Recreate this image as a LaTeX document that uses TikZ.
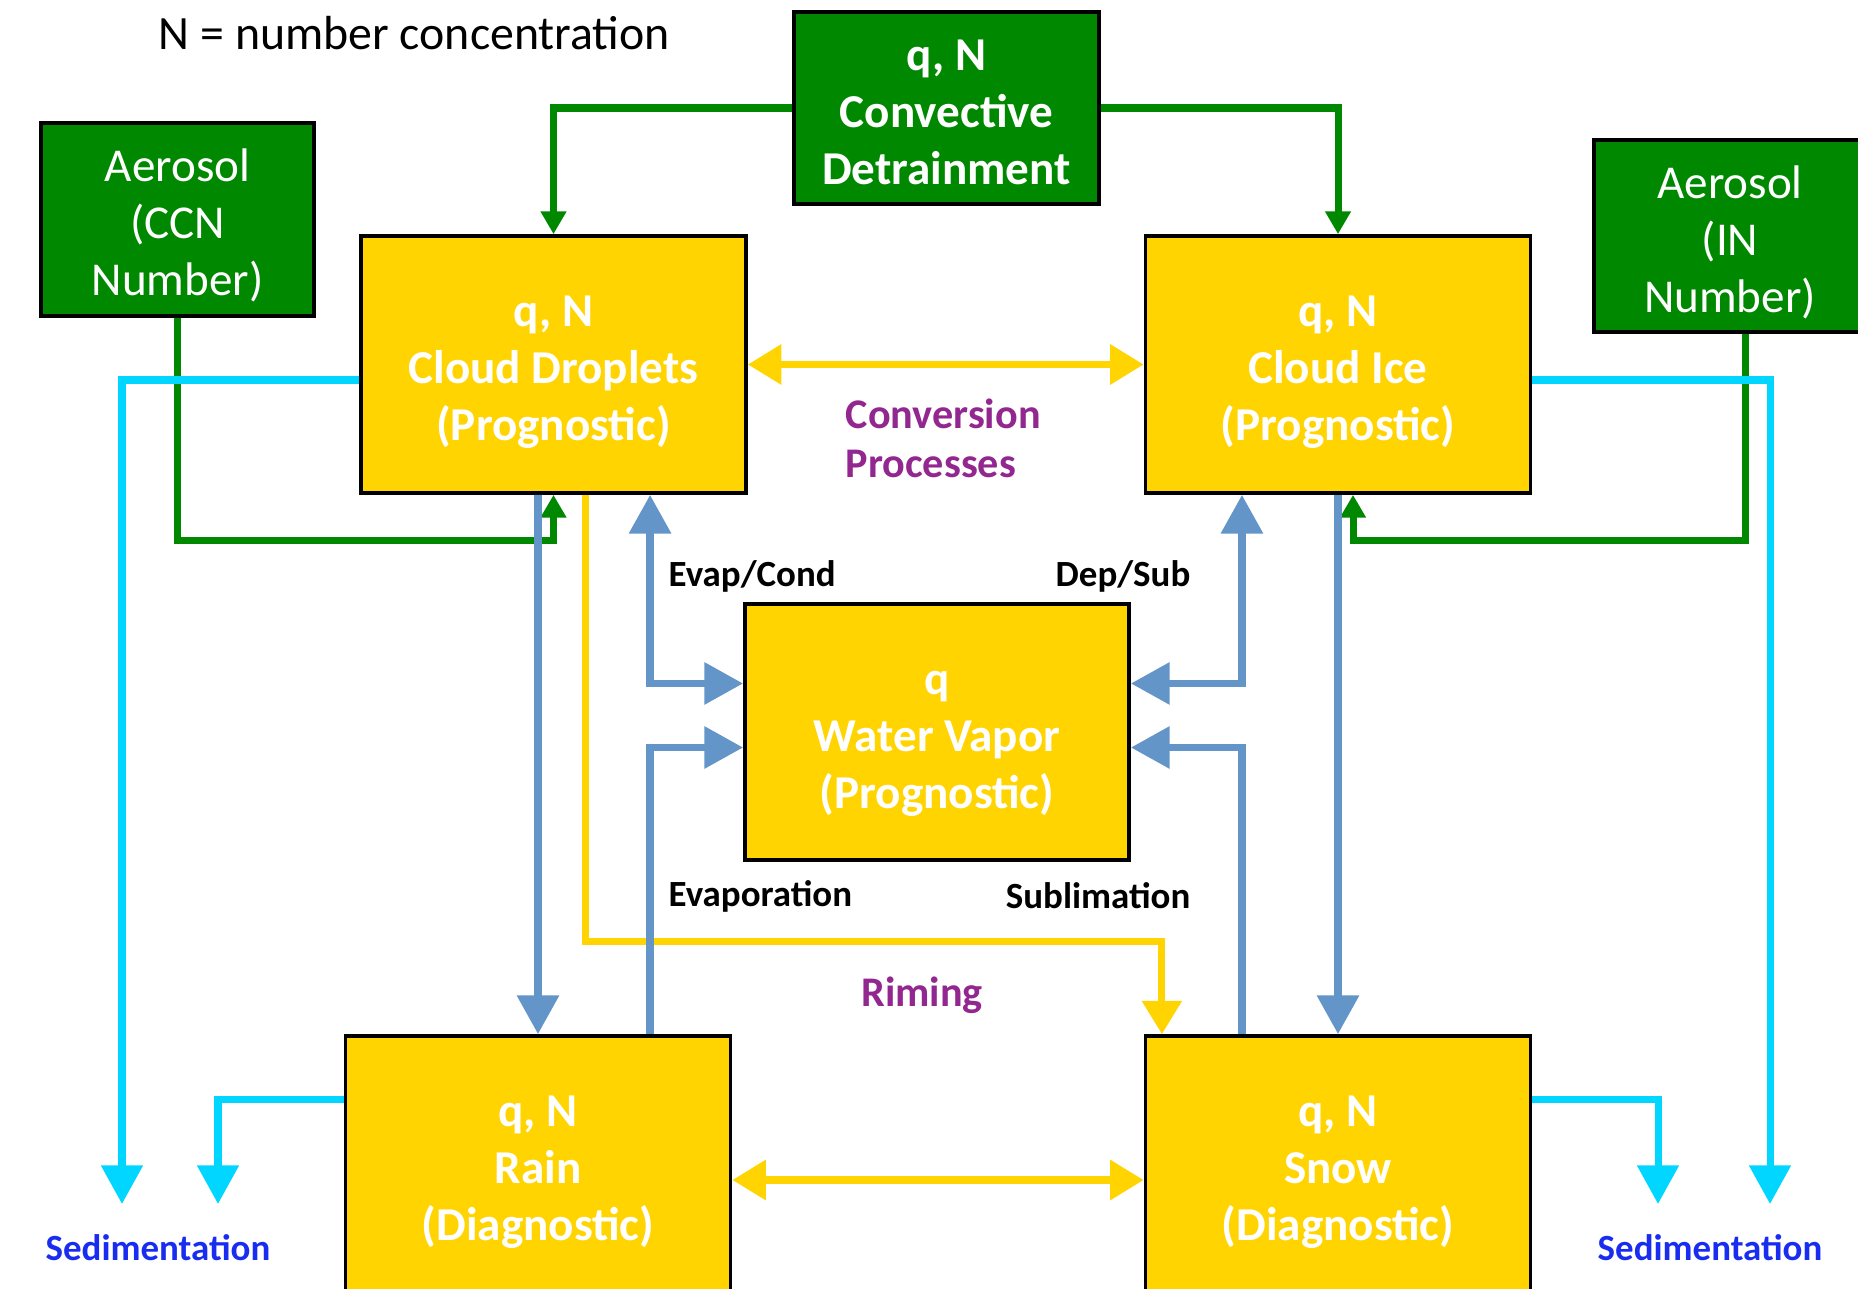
\documentclass[tikz,border=0pt]{standalone}
\usepackage{fontspec}
\setmainfont{Carlito}
\usetikzlibrary{arrows.meta,positioning,calc}
\definecolor{boxyellow}{RGB}{255,212,0}
\definecolor{boxgreen}{RGB}{0,137,0}
\definecolor{sedcyan}{RGB}{0,214,255}
\definecolor{vapblue}{RGB}{99,149,201}
\definecolor{procpurple}{RGB}{146,39,143}
\definecolor{sedblue}{RGB}{25,45,240}

\begin{document}
\begin{tikzpicture}[
  x=0.01cm, y=-0.01cm,
  box/.style={rectangle, draw=black, line width=1pt, align=center, text=white, inner sep=0pt, text height=43.4pt, text depth=0pt},
  hydrobox/.style={box, fill=boxyellow, font=\fontsize{13.4}{16.2}\selectfont\bfseries, minimum width=3.85cm, minimum height=2.57cm},
  sourcebox/.style={box, fill=boxgreen, font=\fontsize{13.4}{16.2}\selectfont, minimum width=2.73cm, minimum height=1.93cm},
  fluxlabel/.style={font=\fontsize{10.5}{12}\selectfont\bfseries, text=black, inner sep=0pt},
  proclabel/.style={font=\fontsize{12}{14}\selectfont\bfseries, text=procpurple, inner sep=0pt, align=left},
  sedlabel/.style={font=\fontsize{10.5}{12}\selectfont\bfseries, text=sedblue, inner sep=0pt},
  garrow/.style={draw=boxgreen, line width=2pt, -{Triangle[length=6.5pt,width=7pt]}},
  carrow/.style={draw=sedcyan, line width=2pt, -{Triangle[length=11pt,width=11.5pt]}},
  barrow/.style={draw=vapblue, line width=2.2pt, -{Triangle[length=11pt,width=11.5pt]}},
  bdarrow/.style={barrow, {Triangle[length=11pt,width=11.5pt]}-{Triangle[length=11pt,width=11.5pt]}},
  yarrow/.style={draw=boxyellow, line width=2pt, -{Triangle[length=9.5pt,width=11pt]}},
  ydarrow/.style={yarrow, {Triangle[length=9.5pt,width=11pt]}-{Triangle[length=9.5pt,width=11pt]}},
]
  \clip (0,0) rectangle (1858,1289);

  \node[font=\fontsize{13.6}{16.2}\selectfont, inner sep=0pt, anchor=west] (legend) at (158,33) {N = number concentration};

  \node[sourcebox, font=\fontsize{13.4}{16.2}\selectfont\bfseries, minimum width=3.05cm, minimum height=1.92cm] (conv) at (946.5,108) {q, N\\Convective\\Detrainment};
  \node[sourcebox] (ccn) at (177.5,219.5) {Aerosol\\(CCN\\Number)};
  \node[sourcebox, minimum width=2.72cm, minimum height=1.92cm] (inbox) at (1730,236) {Aerosol\\(IN\\Number)};

  \node[hydrobox] (drop) at (553.5,364.5) {q, N\\Cloud Droplets\\(Prognostic)};
  \node[hydrobox] (ice) at (1338,364.5) {q, N\\Cloud Ice\\(Prognostic)};
  \node[hydrobox, minimum width=3.84cm, minimum height=2.56cm] (vapor) at (937,732) {q\\Water Vapor\\(Prognostic)};
  \node[hydrobox] (rain) at (538,1164.5) {q, N\\Rain\\(Diagnostic)};
  \node[hydrobox] (snow) at (1338,1164.5) {q, N\\Snow\\(Diagnostic)};

  \node[proclabel, anchor=west] (conversion) at (845,438) {Conversion\\Processes};
  \node[proclabel] (riming) at (922,995) {Riming};
  \node[fluxlabel, anchor=west] (evapcond) at (668,576) {Evap/Cond};
  \node[fluxlabel, anchor=east] (depsub) at (1191,576) {Dep/Sub};
  \node[fluxlabel, anchor=west] (evaporation) at (668,896) {Evaporation};
  \node[fluxlabel, anchor=east] (sublimation) at (1191,896) {Sublimation};
  \node[sedlabel, anchor=west] (sedleft) at (45,1248) {Sedimentation};
  \node[sedlabel, anchor=west] (sedright) at (1597,1248) {Sedimentation};

  \coordinate (sedA) at (122,1204);
  \coordinate (sedB) at (218,1204);
  \coordinate (sedC) at (1658,1204);
  \coordinate (sedD) at (1770,1204);

  \draw[garrow] (conv.west) -| (drop.north);
  \draw[garrow] (conv.east) -| (ice.north);
  \draw[garrow] (ccn.south) -- ++(0,223) -| (drop.south);
  \draw[garrow] ([xshift=0.15cm]inbox.south) -- ++(0,207) -| ([xshift=0.15cm]ice.south);

  \draw[carrow] ([yshift=-0.155cm]drop.west) -| (sedA);
  \draw[carrow] ([yshift=0.645cm]rain.west) -| (sedB);
  \draw[carrow] ([yshift=0.645cm]snow.east) -| (sedC);
  \draw[carrow] ([yshift=-0.155cm]ice.east) -| (sedD);

  \draw[ydarrow] (drop.east) -- (ice.west);
  \draw[ydarrow] ([yshift=-0.155cm]rain.east) -- ([yshift=-0.155cm]snow.west);
  \draw[yarrow] ([xshift=0.315cm]drop.south) -- ++(0,447) -| ([xshift=-1.76cm]snow.north);

  \draw[barrow] ([xshift=-0.155cm]drop.south) -- (rain.north);
  \draw[bdarrow] ([xshift=0.965cm]drop.south) |- ([yshift=0.485cm]vapor.west);
  \draw[barrow] ([xshift=1.12cm]rain.north) |- ([yshift=-0.155cm]vapor.west);
  \draw[bdarrow] ([xshift=-0.96cm]ice.south) |- ([yshift=0.485cm]vapor.east);
  \draw[barrow] ([xshift=-0.96cm]snow.north) |- ([yshift=-0.155cm]vapor.east);
  \draw[barrow] (ice.south) -- (snow.north);
\end{tikzpicture}
\end{document}
